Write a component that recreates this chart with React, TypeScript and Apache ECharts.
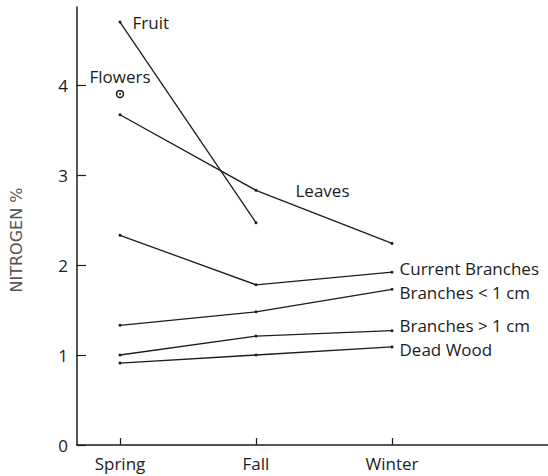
import React, { useEffect, useRef } from "react";
import * as echarts from "echarts";

const seasons = ["Spring", "Fall", "Winter"];
const seasonPositions = [1, 2, 3];
const yTicks = [0, 1, 2, 3, 4];

const fruit = [4.7, 2.47];
const flowers = [3.9];
const leaves = [3.67, 2.83, 2.24];
const currentBranches = [2.33, 1.78, 1.92];
const branchesLt1 = [1.33, 1.48, 1.73];
const branchesGt1 = [1.0, 1.21, 1.27];
const deadWood = [0.91, 1.0, 1.09];

const FONT = "'Open Sans', Lato, sans-serif";
const INK = "#1c1c1c";

type LabelSpec = { index: number; text: string; position: string; distance: number; offset?: number[] };

function lineSeries(name: string, values: number[], lab: LabelSpec) {
  return {
    name,
    type: "line",
    symbol: "circle",
    symbolSize: 3,
    lineStyle: { color: INK, width: 1.3 },
    itemStyle: { color: INK },
    silent: true,
    data: values.map((v, i) => {
      const item: any = { value: [seasonPositions[i], v] };
      if (i === lab.index) {
        item.label = {
          show: true,
          formatter: lab.text,
          position: lab.position,
          distance: lab.distance,
          offset: lab.offset || [0, 0],
          color: INK,
          fontFamily: FONT,
          fontSize: 17,
        };
      }
      return item;
    }),
  };
}

export default function App() {
  const ref = useRef<HTMLDivElement>(null);
  useEffect(() => {
    if (!ref.current) return;
    const chart = echarts.init(ref.current, undefined, { renderer: "svg" });
    chart.setOption({
      animation: false,
      backgroundColor: "#ffffff",
      textStyle: { fontFamily: FONT },
      grid: { left: 77, right: 0, top: 7, bottom: 31, containLabel: false },
      xAxis: {
        type: "value",
        min: 0.684,
        max: 4.147,
        axisLine: { show: true, lineStyle: { color: INK, width: 1.5 } },
        axisTick: { show: true, inside: true, length: 7, customValues: seasonPositions, lineStyle: { color: INK, width: 1.2 } },
        axisLabel: {
          customValues: seasonPositions,
          formatter: (v: number) => seasons[Math.round(v) - 1] || "",
          margin: 10,
          color: INK,
          fontFamily: FONT,
          fontSize: 17,
        },
        splitLine: { show: false },
      },
      yAxis: {
        type: "value",
        min: 0,
        max: 4.867,
        axisLine: { show: true, lineStyle: { color: INK, width: 1.5 } },
        axisTick: { show: true, inside: true, length: 9, customValues: yTicks, lineStyle: { color: INK, width: 1.2 } },
        axisLabel: {
          customValues: yTicks,
          margin: 9,
          color: INK,
          fontFamily: FONT,
          fontSize: 17,
        },
        splitLine: { show: false },
      },
      graphic: [
        {
          type: "text",
          x: 16,
          y: 240,
          rotation: Math.PI / 2,
          style: {
            text: "NITROGEN %",
            fill: "#555",
            font: "16px 'DejaVu Sans', sans-serif",
            align: "center",
            verticalAlign: "middle",
          },
        },
      ],
      series: [
        lineSeries("Fruit", fruit, { index: 0, text: "Fruit", position: "right", distance: 11 }),
        lineSeries("Leaves", leaves, { index: 1, text: "Leaves", position: "right", distance: 38 }),
        lineSeries("Current Branches", currentBranches, { index: 2, text: "Current Branches", position: "right", distance: 6, offset: [0, -4] }),
        lineSeries("Branches < 1 cm", branchesLt1, { index: 2, text: "Branches < 1 cm", position: "right", distance: 6, offset: [0, 3] }),
        lineSeries("Branches > 1 cm", branchesGt1, { index: 2, text: "Branches > 1 cm", position: "right", distance: 6, offset: [0, -5] }),
        lineSeries("Dead Wood", deadWood, { index: 2, text: "Dead Wood", position: "right", distance: 6, offset: [0, 3] }),
        {
          name: "Flowers",
          type: "scatter",
          symbol: "circle",
          symbolSize: 7,
          itemStyle: { color: "#ffffff", borderColor: INK, borderWidth: 1.5, opacity: 1 },
          silent: true,
          z: 3,
          data: flowers.map((v) => ({
            value: [seasonPositions[0], v],
            label: {
              show: true,
              formatter: "Flowers",
              position: "top",
              distance: 5,
              color: INK,
              opacity: 1,
              fontFamily: FONT,
              fontSize: 17,
            },
          })),
        },
        {
          name: "Flowers centre",
          type: "scatter",
          symbol: "circle",
          symbolSize: 2,
          itemStyle: { color: INK, opacity: 1 },
          silent: true,
          z: 4,
          data: flowers.map((v) => [seasonPositions[0], v]),
        },
      ],
    });
    return () => chart.dispose();
  }, []);
  return <div ref={ref} style={{ width: 548, height: 476, position: "absolute", left: 0, top: 0 }} />;
}
